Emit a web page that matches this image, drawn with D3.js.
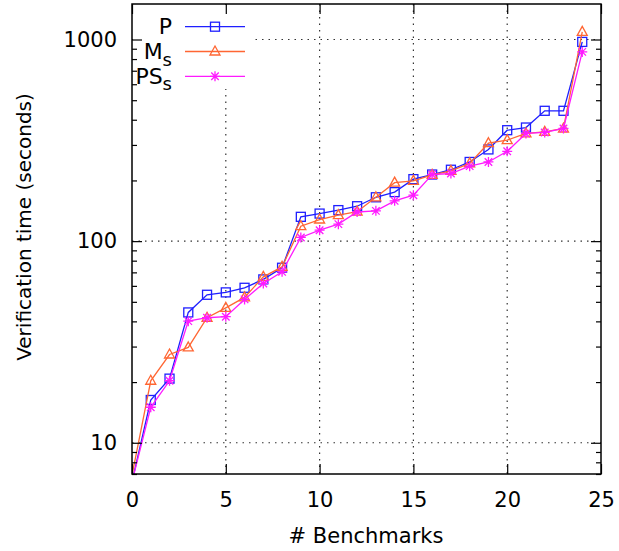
<!DOCTYPE html>
<html>
<head>
<meta charset="utf-8">
<script src="https://cdn.jsdelivr.net/npm/d3@7"></script>
<style>
  body { margin: 0; background: #fff; }
  text { font-family: "DejaVu Sans", sans-serif; fill: #000; }
</style>
</head>
<body>
<script>
'use strict';

// benchmark index on x, verification time (s) on y
const benchmarks = d3.range(0, 25);
const timesP  = [6.4, 16.3, 20.8, 44.3, 54.2, 55.7, 58.7, 64.6, 73.8, 132, 137, 142.5, 149, 165, 175, 203, 214, 226, 247, 285, 355, 366, 443, 443, 973];
const timesMs = [6.9, 20.3, 27.4, 29.7, 41.7, 46.7, 52.6, 66.5, 74.5, 118.6, 128, 134.5, 140, 165, 195, 199, 213, 223, 243, 306, 317, 342, 348, 362, 1091];
const timesPSs = [6.4, 15.0, 20.3, 40.1, 41.7, 42.2, 51.4, 61.7, 70.4, 104.3, 113.3, 121.4, 139.5, 141.3, 158.4, 169, 214, 216.5, 235.5, 247, 279, 342, 346, 362, 868];

const xTicks = [0, 5, 10, 15, 20, 25];
const yTicks = [10, 100, 1000];
const yMinor = [7, 8, 9, 20, 30, 40, 50, 60, 70, 80, 90, 200, 300, 400, 500, 600, 700, 800, 900];

const W = 619, H = 551;
const plotL = 132, plotR = 601, plotT = 4, plotB = 474;

const svg = d3.select('body').append('svg')
  .attr('width', W).attr('height', H);

const x = d3.scaleLinear().domain([0, 25]).range([plotL, plotR]);
const y = d3.scaleLog().domain([7, 1500]).range([plotB, plotT]);

// grid (dotted)
const grid = svg.append('g')
  .attr('stroke', '#333').attr('stroke-width', 1.2)
  .attr('stroke-dasharray', '1.5,5');
grid.selectAll('.gx').data(xTicks.filter(d => d > 0 && d < 25)).enter()
  .append('line')
  .attr('x1', d => x(d)).attr('x2', d => x(d))
  .attr('y1', plotT).attr('y2', plotB);
grid.selectAll('.gy').data(yTicks).enter()
  .append('line')
  .attr('x1', plotL).attr('x2', plotR)
  .attr('y1', d => y(d)).attr('y2', d => y(d));

// legend background hides the grid
svg.append('rect')
  .attr('x', plotL + 1).attr('y', plotT + 1)
  .attr('width', 122).attr('height', 84)
  .attr('fill', '#fff');

svg.append('clipPath').attr('id', 'plotclip')
  .append('rect')
  .attr('x', plotL).attr('y', plotT)
  .attr('width', plotR - plotL).attr('height', plotB - plotT);

const series = [
  { name: 'P', sub: '', values: timesP, color: '#1f1fff', marker: 'square' },
  { name: 'M', sub: 's', values: timesMs, color: '#ff6633', marker: 'triangle' },
  { name: 'PS', sub: 's', values: timesPSs, color: '#ff1aff', marker: 'star' }
];

function drawMarker(g, type, cx, cy, color) {
  if (type === 'square') {
    g.append('rect')
      .attr('x', cx - 4.5).attr('y', cy - 4.5)
      .attr('width', 9).attr('height', 9)
      .attr('fill', 'none').attr('stroke', color).attr('stroke-width', 1.3);
  } else if (type === 'triangle') {
    g.append('path')
      .attr('d', `M${cx},${cy - 5.5}L${cx + 5},${cy + 3.5}L${cx - 5},${cy + 3.5}Z`)
      .attr('fill', 'none').attr('stroke', color).attr('stroke-width', 1.3);
  } else {
    const r = 5;
    g.append('path')
      .attr('d', `M${cx - r},${cy}L${cx + r},${cy}M${cx},${cy - r}L${cx},${cy + r}` +
        `M${cx - r * 0.75},${cy - r * 0.75}L${cx + r * 0.75},${cy + r * 0.75}` +
        `M${cx - r * 0.75},${cy + r * 0.75}L${cx + r * 0.75},${cy - r * 0.75}`)
      .attr('stroke', color).attr('stroke-width', 1.3);
  }
}

const line = d3.line()
  .x((d, i) => x(benchmarks[i]))
  .y(d => y(d));

const plot = svg.append('g').attr('clip-path', 'url(#plotclip)');
series.forEach(s => {
  plot.append('path')
    .datum(s.values)
    .attr('d', line)
    .attr('fill', 'none')
    .attr('stroke', s.color)
    .attr('stroke-width', 1.3);
  const mg = plot.append('g');
  s.values.forEach((v, i) => {
    if (v < 7 || v > 1500) return; // gnuplot skips out of range points
    drawMarker(mg, s.marker, x(benchmarks[i]), y(v), s.color);
  });
});

// axes with ticks pointing inwards
const fmt = d3.format('d');
svg.append('g')
  .attr('transform', `translate(0,${plotB})`)
  .call(d3.axisBottom(x).tickValues(xTicks).tickSize(-10).tickPadding(18));
svg.append('g')
  .attr('transform', `translate(0,${plotT})`)
  .call(d3.axisTop(x).tickValues(xTicks).tickSize(-10).tickFormat(''));
svg.append('g')
  .attr('transform', `translate(${plotL},0)`)
  .call(d3.axisLeft(y).tickValues(yTicks).tickSize(-10).tickPadding(15).tickFormat(fmt));
svg.append('g')
  .attr('transform', `translate(${plotL},0)`)
  .call(d3.axisLeft(y).tickValues(yMinor).tickSize(-5).tickFormat(''));
svg.append('g')
  .attr('transform', `translate(${plotR},0)`)
  .call(d3.axisRight(y).tickValues(yTicks).tickSize(-10).tickFormat(''));
svg.append('g')
  .attr('transform', `translate(${plotR},0)`)
  .call(d3.axisRight(y).tickValues(yMinor).tickSize(-5).tickFormat(''));

svg.selectAll('.domain').remove();
svg.selectAll('.tick line').attr('stroke', '#000').attr('stroke-width', 1.2);
svg.selectAll('.tick text')
  .style('font-family', '"DejaVu Sans", sans-serif')
  .style('font-size', '21px')
  .attr('fill', '#000');

// frame
svg.append('rect')
  .attr('x', plotL).attr('y', plotT)
  .attr('width', plotR - plotL).attr('height', plotB - plotT)
  .attr('fill', 'none').attr('stroke', '#000').attr('stroke-width', 1.5);

// axis titles
svg.append('text')
  .attr('x', 366).attr('y', 543)
  .attr('text-anchor', 'middle')
  .style('font-size', '21px')
  .text('# Benchmarks');

svg.append('text')
  .attr('transform', 'translate(31,227)rotate(-90)')
  .attr('text-anchor', 'middle')
  .style('font-size', '20px')
  .text('Verification time (seconds)');

// legend
const legend = svg.append('g');
series.forEach((s, i) => {
  const ly = 26.7 + i * 24.8;
  const t = legend.append('text')
    .attr('x', 172).attr('y', ly + 7.5)
    .attr('text-anchor', 'end')
    .style('font-size', '22px');
  t.append('tspan').text(s.name);
  if (s.sub) {
    t.append('tspan').attr('dy', 6.5).style('font-size', '18px').text(s.sub);
  }
  legend.append('line')
    .attr('x1', 185).attr('x2', 245)
    .attr('y1', ly).attr('y2', ly)
    .attr('stroke', s.color).attr('stroke-width', 1.3);
  drawMarker(legend, s.marker, 215, ly, s.color);
});
</script>
</body>
</html>
